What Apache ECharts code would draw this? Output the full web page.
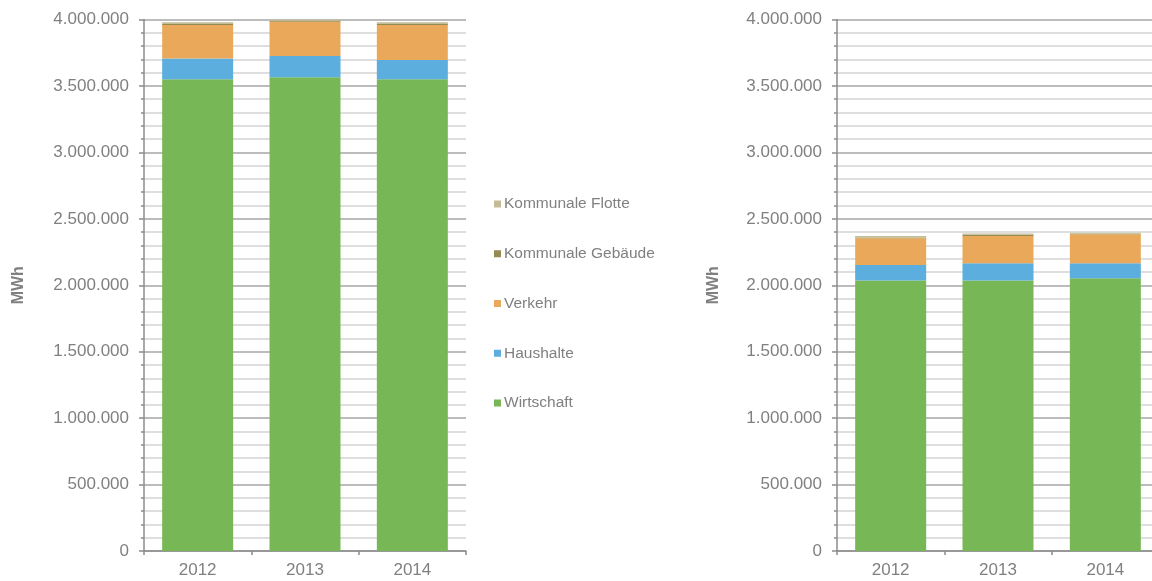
<!DOCTYPE html>
<html>
<head>
<meta charset="utf-8">
<script src="https://cdn.jsdelivr.net/npm/echarts@6/dist/echarts.min.js"></script>
<style>
html,body{margin:0;padding:0;background:#fff;}
#c{width:1152px;height:581px;}
</style>
</head>
<body>
<div id="c"></div>
<script>
var categories = ['2012', '2013', '2014'];
var seriesNames = ['Wirtschaft', 'Haushalte', 'Verkehr', 'Kommunale Gebäude', 'Kommunale Flotte'];
var legendOrder = ['Kommunale Flotte', 'Kommunale Gebäude', 'Verkehr', 'Haushalte', 'Wirtschaft'];
var colors = ['#77B756', '#5BAEDD', '#EAA95A', '#948A54', '#C4BC96'];

// Left chart
var leftWirtschaft = [3550000, 3565000, 3550000];
var leftHaushalte = [157000, 160000, 145000];
var leftVerkehr = [251000, 258000, 263000];
var leftGebaeude = [7500, 7000, 8000];
var leftFlotte = [14000, 10000, 14000];

// Right chart
var rightWirtschaft = [2035000, 2035000, 2052000];
var rightHaushalte = [118000, 130000, 113000];
var rightVerkehr = [200000, 205000, 218000];
var rightGebaeude = [5000, 10000, 4000];
var rightFlotte = [12000, 10000, 8000];

var yTicks = { min: 0, max: 4000000, interval: 500000 };
var axisTitle = 'MWh';

var leftData = [leftWirtschaft, leftHaushalte, leftVerkehr, leftGebaeude, leftFlotte];
var rightData = [rightWirtschaft, rightHaushalte, rightVerkehr, rightGebaeude, rightFlotte];

function fmt(v) {
  return String(v).replace(/\B(?=(\d{3})+(?!\d))/g, '.');
}

var textColor = '#808080';
var fontFamily = 'Liberation Sans, Arial, sans-serif';

function xAxis(gi) {
  return {
    type: 'category', gridIndex: gi, data: categories,
    axisLine: { lineStyle: { color: '#8c8c8c', width: 1.5 } },
    axisTick: { show: true, length: 4, lineStyle: { color: '#8c8c8c', width: 1.5 } },
    axisLabel: { color: textColor, fontSize: 17, fontFamily: fontFamily, margin: 11 }
  };
}
function yAxis(gi) {
  return {
    type: 'value', gridIndex: gi, min: yTicks.min, max: yTicks.max, interval: yTicks.interval,
    name: axisTitle, nameLocation: 'middle', nameRotate: 90,
    nameGap: gi === 0 ? 117.5 : 115,
    nameTextStyle: { color: textColor, fontSize: 16, fontWeight: 'bold', fontFamily: fontFamily },
    axisLine: { show: true, lineStyle: { color: '#8c8c8c', width: 1.5 } },
    axisTick: { show: true, length: 5, lineStyle: { color: '#8c8c8c', width: 1.5 } },
    minorTick: { show: true, splitNumber: 5, length: 3, lineStyle: { color: '#8c8c8c', width: 1.5 } },
    splitLine: { show: true, lineStyle: { color: '#a6a6a6', width: 1.5 } },
    minorSplitLine: { show: true, lineStyle: { color: '#d4d4d4', width: 1.5 } },
    axisLabel: { color: textColor, fontSize: 17, fontFamily: fontFamily, margin: 15, formatter: fmt }
  };
}

var series = [];
[leftData, rightData].forEach(function (set, gi) {
  set.forEach(function (vals, i) {
    series.push({
      name: seriesNames[i], type: 'bar', stack: 'total' + gi,
      xAxisIndex: gi, yAxisIndex: gi,
      barWidth: 71,
      itemStyle: { color: colors[i] },
      emphasis: { disabled: true },
      data: vals
    });
  });
});

var chart = echarts.init(document.getElementById('c'), null, { renderer: 'canvas' });
chart.setOption({
  animation: false,
  textStyle: { fontFamily: fontFamily },
  grid: [
    { left: 144, width: 322, top: 19.5, bottom: 30, outerBoundsMode: 'none' },
    { left: 837, width: 322, top: 19.5, bottom: 30, outerBoundsMode: 'none' }
  ],
  xAxis: [xAxis(0), xAxis(1)],
  yAxis: [yAxis(0), yAxis(1)],
  legend: {
    orient: 'vertical', left: 494, top: 195, padding: 0,
    data: legendOrder,
    icon: 'rect', itemWidth: 7, itemHeight: 7, itemGap: 31.75,
    textStyle: { color: textColor, fontSize: 15.5, fontFamily: fontFamily, lineHeight: 18, padding: [0, 0, 0, -2] }
  },
  series: series
});
</script>
</body>
</html>
